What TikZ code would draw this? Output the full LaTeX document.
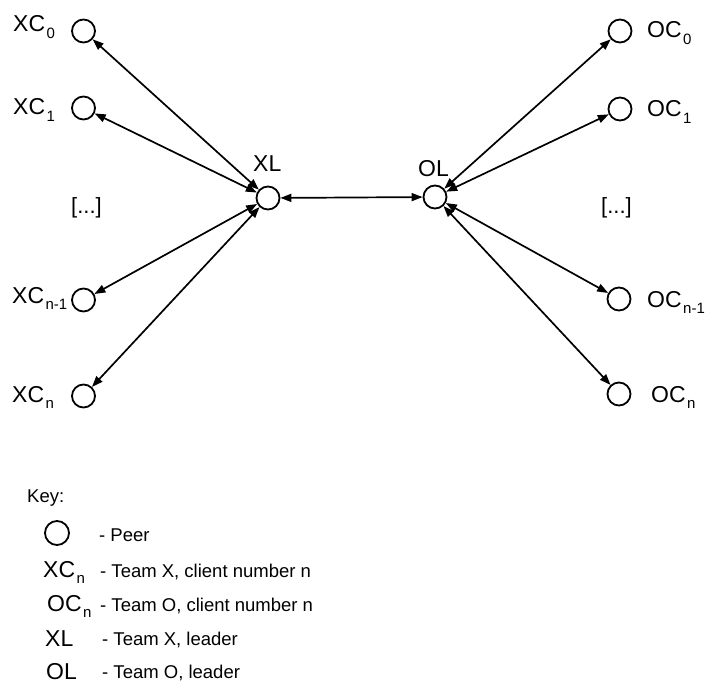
\documentclass[tikz,border=0pt]{standalone}
\usepackage{fontspec}
\setmainfont{Liberation Sans}
\usetikzlibrary{arrows.meta}
\newcommand\peerlab[2]{#1\kern1.5pt\raisebox{-6.5pt}{\fontsize{15}{15}\selectfont #2}}
\begin{document}
\begin{tikzpicture}[x=1pt,y=-1pt,
  peer/.style={circle,draw,minimum size=23pt,inner sep=0pt,line width=1.8pt},
  lbl/.style={anchor=base west,inner sep=0pt,font=\fontsize{23}{25}\selectfont},
  keytxt/.style={anchor=base west,inner sep=0pt,font=\fontsize{18.5}{20}\selectfont},
  link/.style={line width=1.7pt,{Triangle[length=11pt,width=8pt]}-{Triangle[length=11pt,width=8pt]}}]
\useasboundingbox (0,0) rectangle (713,690);
% peers
\node[peer] (xc0) at (83.5,31) {};
\node[peer] (xc1) at (83.5,108) {};
\node[peer] (xcn1) at (83.5,300) {};
\node[peer] (xcn) at (83.5,396) {};
\node[peer] (xl) at (268,198) {};
\node[peer] (ol) at (435,197) {};
\node[peer] (oc0) at (620,31) {};
\node[peer] (oc1) at (620,109) {};
\node[peer] (ocn1) at (619,299) {};
\node[peer] (ocn) at (619,394) {};
% labels
\node[lbl] (lxc0) at (13,32) {\peerlab{XC}{0}};
\node[lbl] (lxc1) at (13,115) {\peerlab{XC}{1}};
\node[lbl] (lxcn1) at (12,303) {\peerlab{XC}{n-1}};
\node[lbl] (lxcn) at (12,402) {\peerlab{XC}{n}};
\node[lbl] (loc0) at (647,38) {\peerlab{OC}{0}};
\node[lbl] (loc1) at (647,117) {\peerlab{OC}{1}};
\node[lbl] (locn1) at (647,307) {\peerlab{OC}{n-1}};
\node[lbl] (locn) at (651,402) {\peerlab{OC}{n}};
\node[lbl] (lxl) at (253,172) {XL};
\node[lbl] (lol) at (418,177) {OL};
\node[lbl,font=\fontsize{22}{24}\selectfont] (dots1) at (71,214) {[...]};
\node[lbl,font=\fontsize{22}{24}\selectfont] (dots2) at (601,214) {[...]};
% links
\draw[link] (xc0) -- (xl);
\draw[link] (xc1) -- (xl);
\draw[link] (xcn1) -- (xl);
\draw[link] (xcn) -- (xl);
\draw[link] (xl) -- (ol);
\draw[link] (ol) -- (oc0);
\draw[link] (ol) -- (oc1);
\draw[link] (ol) -- (ocn1);
\draw[link] (ol) -- (ocn);
% key
\node[keytxt] (key) at (27,502) {Key:};
\node[peer,minimum size=24pt] (kpeer) at (57,533) {};
\node[keytxt] (kpeertxt) at (99,541) {- Peer};
\node[lbl] (kxc) at (43,577) {\peerlab{XC}{n}};
\node[keytxt] (kxctxt) at (100,577) {- Team X, client number n};
\node[lbl] (koc) at (47,611) {\peerlab{OC}{n}};
\node[keytxt] (koctxt) at (100,611) {- Team O, client number n};
\node[lbl] (kxl) at (45,646) {XL};
\node[keytxt] (kxltxt) at (102,645) {- Team X, leader};
\node[lbl] (kol) at (46,679) {OL};
\node[keytxt] (koltxt) at (102,678) {- Team O, leader};
\end{tikzpicture}
\end{document}
